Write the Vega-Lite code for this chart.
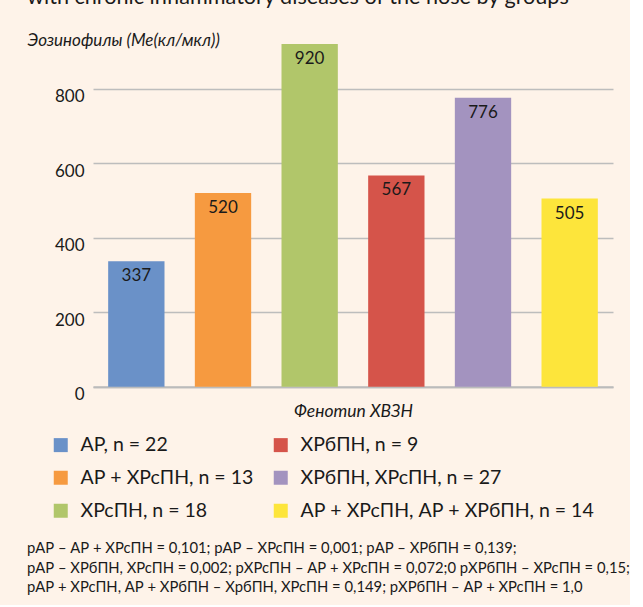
{
  "$schema": "https://vega.github.io/schema/vega-lite/v6.json",
  "background": "#FEF3E9",
  "padding": {"left": 27, "top": -13, "right": 0, "bottom": 10},
  "config": {
    "font": "Lato",
    "view": {"stroke": null},
    "title": {"font": "Lato", "fontWeight": "normal", "color": "#1a1a1a"}
  },
  "title": {
    "text": [
      "pАР – АР + ХРсПН = 0,101; pАР – ХРсПН = 0,001; pАР – ХРбПН = 0,139;",
      "pАР – ХРбПН, ХРсПН = 0,002; pХРсПН – АР + ХРсПН = 0,072;0 pХРбПН – ХРсПН = 0,15;",
      "pАР + ХРсПН, АР + ХРбПН – ХрбПН, ХРсПН = 0,149; pХРбПН – АР + ХРсПН = 1,0"
    ],
    "orient": "bottom",
    "anchor": "start",
    "frame": "bounds",
    "fontSize": 14.8,
    "lineHeight": 19.5,
    "offset": 20
  },
  "vconcat": [
    {
      "title": {
        "text": "with chronic inflammatory diseases of the nose by groups",
        "anchor": "start",
        "frame": "bounds",
        "fontSize": 21.6,
        "offset": 22
      },
      "width": 520,
      "height": 342.7,
      "data": {
        "values": [
          {"group": "АР, n = 22", "value": 337},
          {"group": "АР + ХРсПН, n = 13", "value": 520},
          {"group": "ХРсПН, n = 18", "value": 920},
          {"group": "ХРбПН, n = 9", "value": 567},
          {"group": "ХРбПН, ХРсПН, n = 27", "value": 776},
          {"group": "АР + ХРсПН, АР + ХРбПН, n = 14", "value": 505}
        ]
      },
      "encoding": {
        "x": {
          "field": "group",
          "type": "nominal",
          "sort": ["АР, n = 22", "АР + ХРсПН, n = 13", "ХРсПН, n = 18", "ХРбПН, n = 9", "ХРбПН, ХРсПН, n = 27", "АР + ХРсПН, АР + ХРбПН, n = 14"],
          "scale": {"paddingInner": 0.35, "paddingOuter": 0.175},
          "axis": {
            "labels": false,
            "ticks": false,
            "domain": true,
            "domainColor": "#BBBBBB",
            "domainWidth": 2,
            "title": "Фенотип ХВЗН",
            "titleFont": "Lato",
            "titleFontStyle": "italic",
            "titleFontWeight": "normal",
            "titleFontSize": 17.5,
            "titleColor": "#1a1a1a",
            "titlePadding": 16
          }
        },
        "y": {
          "field": "value",
          "type": "quantitative",
          "scale": {"domain": [0, 920], "nice": false},
          "axis": {
            "values": [0, 200, 400, 600, 800],
            "grid": true,
            "gridColor": "#BDBDBD",
            "gridWidth": 1.5,
            "domain": false,
            "ticks": false,
            "labelFontSize": 17,
            "labelColor": "#1a1a1a",
            "labelPadding": 9,
            "labelOffset": 8,
            "title": "Эозинофилы (Ме(кл/мкл))",
            "titleAngle": 0,
            "titleAlign": "left",
            "titleBaseline": "alphabetic",
            "titleX": -66,
            "titleY": 1,
            "titleFont": "Lato",
            "titleFontStyle": "italic",
            "titleFontWeight": "normal",
            "titleFontSize": 17,
            "titleColor": "#1a1a1a"
          }
        }
      },
      "layer": [
        {
          "mark": {"type": "bar"},
          "encoding": {
            "color": {
              "field": "group",
              "type": "nominal",
              "scale": {
                "domain": ["АР, n = 22", "АР + ХРсПН, n = 13", "ХРсПН, n = 18", "ХРбПН, n = 9", "ХРбПН, ХРсПН, n = 27", "АР + ХРсПН, АР + ХРбПН, n = 14"],
                "range": ["#6A91C8", "#F69A40", "#B1C66A", "#D5544A", "#A393BF", "#FDE53B"]
              },
              "legend": {
                "orient": "none",
                "legendX": -42,
                "legendY": 391,
                "direction": "vertical",
                "columns": 2,
                "columnPadding": 17,
                "rowPadding": 12,
                "title": null,
                "symbolType": "square",
                "symbolSize": 196,
                "symbolStrokeWidth": 0,
                "labelFontSize": 19.5,
                "labelFont": "Lato",
                "labelColor": "#1a1a1a",
                "labelOffset": 10,
                "labelLimit": 400,
                "encode": {
                  "symbols": {
                    "update": {
                      "fill": {"signal": "datum.value === 'АР + ХРсПН, АР + ХРбПН, n = 14' ? '#FFC800' : scale('color', datum.value)"}
                    }
                  }
                }
              }
            }
          }
        },
        {
          "mark": {"type": "text", "baseline": "top", "dy": 7, "fontSize": 17, "color": "#1a1a1a"},
          "encoding": {"text": {"field": "value", "type": "quantitative"}}
        }
      ]
    }
  ]
}
